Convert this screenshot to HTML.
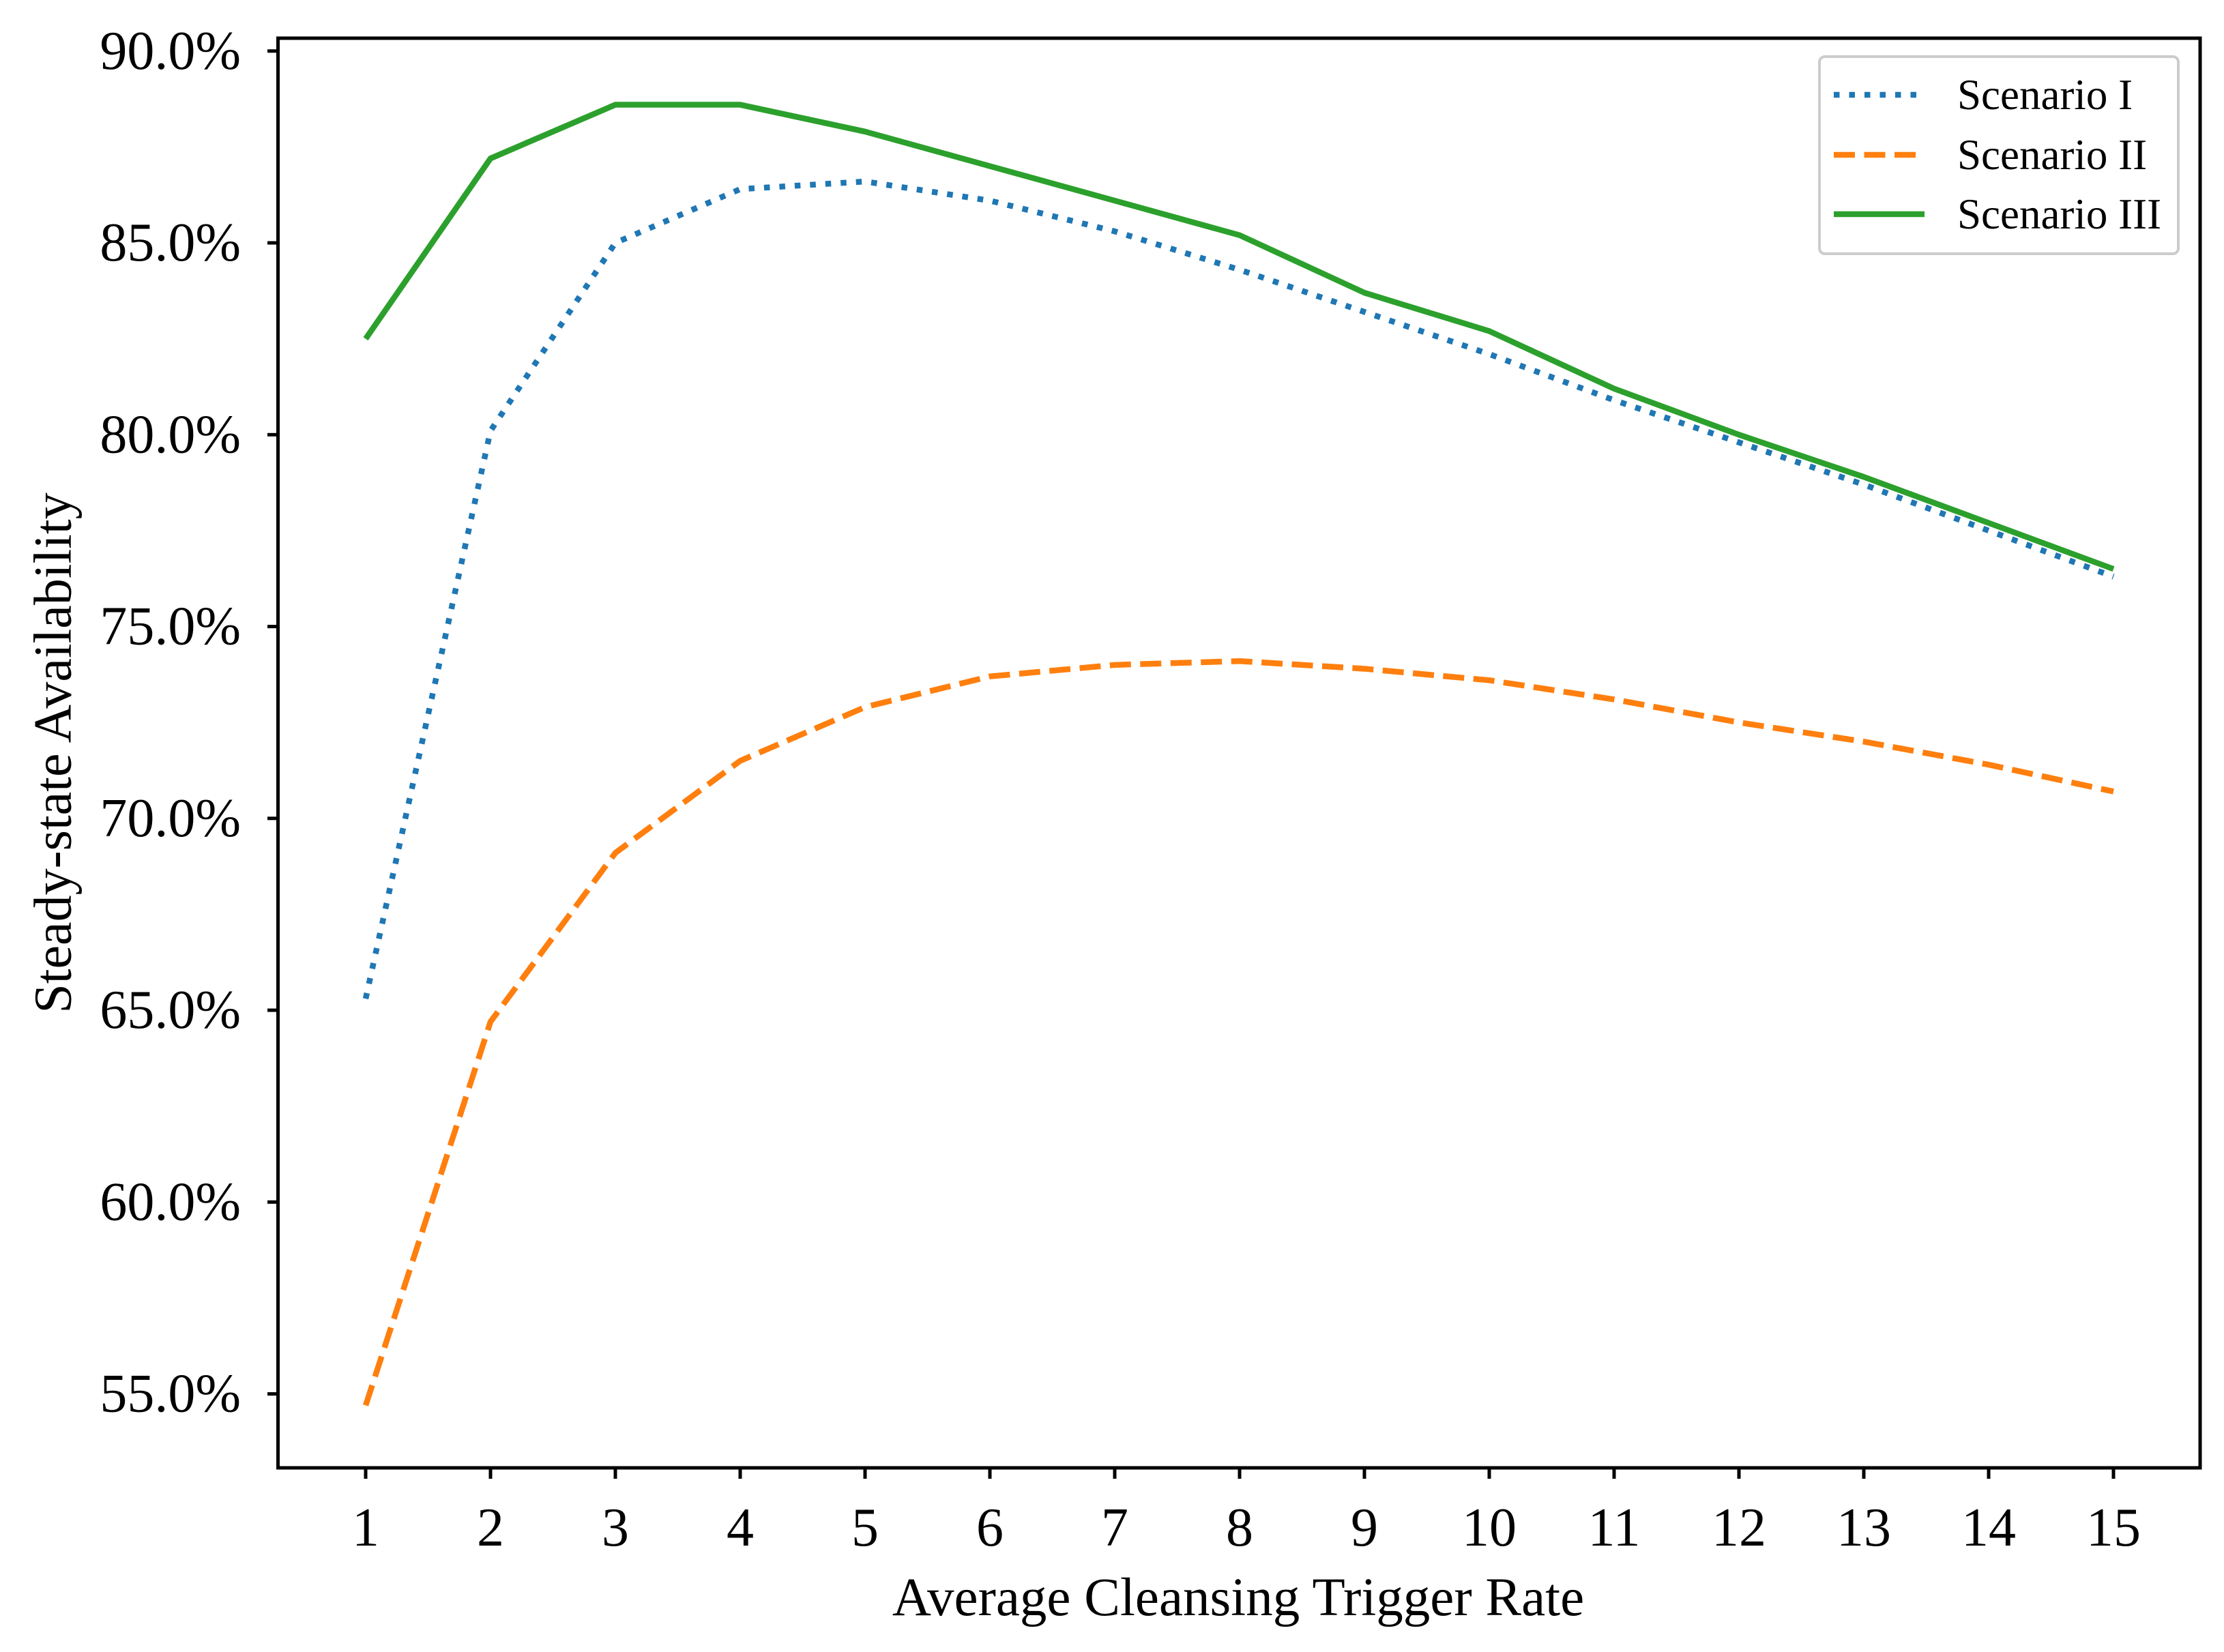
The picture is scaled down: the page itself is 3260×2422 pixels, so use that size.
<!DOCTYPE html>
<html><head><meta charset="utf-8">
<style>
html,body{margin:0;padding:0;background:#fff;}
svg{display:block;}
text{font-family:"Liberation Serif","DejaVu Serif",serif;fill:#000;}
</style></head>
<body>
<svg id="chart" width="3260" height="2422" viewBox="0 0 3260 2422" xmlns="http://www.w3.org/2000/svg">
<rect x="0" y="0" width="3260" height="2422" fill="#fff"/>
<g id="ticks"></g>
<g id="series"></g>
<rect x="407.5" y="56" width="2817.5" height="2096" fill="none" stroke="#000" stroke-width="5"/>
<text x="77" y="1104" font-size="78" text-anchor="middle" dominant-baseline="central" transform="rotate(-90 77 1104)">Steady-state Availability</text>
<text x="1815" y="2368" font-size="79" text-anchor="middle">Average Cleansing Trigger Rate</text>
<g>
<rect x="2667" y="83" width="526" height="289" rx="8" fill="#fff" stroke="#ccc" stroke-width="4"/>
<line x1="2688" y1="139" x2="2821" y2="139" stroke="#1f77b4" stroke-width="8.5" stroke-dasharray="8.5,14"/>
<text x="2869" y="139" font-size="63" dominant-baseline="central">Scenario I</text>
<line x1="2688" y1="227" x2="2821" y2="227" stroke="#ff7f0e" stroke-width="8.5" stroke-dasharray="31,13.5"/>
<text x="2869" y="227" font-size="63" dominant-baseline="central">Scenario II</text>
<line x1="2688" y1="314" x2="2821" y2="314" stroke="#2ca02c" stroke-width="8.5"/>
<text x="2869" y="314" font-size="63" dominant-baseline="central">Scenario III</text>
</g>
</svg>
<script>
const categories = [1,2,3,4,5,6,7,8,9,10,11,12,13,14,15];
const scenarioI = [65.3,80.1,85.0,86.4,86.6,86.1,85.3,84.3,83.2,82.1,80.9,79.8,78.7,77.5,76.3];
const scenarioII = [54.7,64.7,69.1,71.5,72.9,73.7,74.0,74.1,73.9,73.6,73.1,72.5,72.0,71.4,70.7];
const scenarioIII = [82.5,87.2,88.6,88.6,87.9,87.0,86.1,85.2,83.7,82.7,81.2,80.0,78.9,77.7,76.5];
const yTicks = [55,60,65,70,75,80,85,90];
const yTickLabels = ["55.0%","60.0%","65.0%","70.0%","75.0%","80.0%","85.0%","90.0%"];

const NS = "http://www.w3.org/2000/svg";
function xs(v){ return 536 + (v-1)*(3098-536)/14; }
function ys(v){ return 2043.6 - (v-55)*(2043.6-74.8)/35; }
const tg = document.getElementById('ticks');
categories.forEach(c=>{
  const l=document.createElementNS(NS,'line');
  l.setAttribute('x1',xs(c)); l.setAttribute('x2',xs(c));
  l.setAttribute('y1',2152); l.setAttribute('y2',2168);
  l.setAttribute('stroke','#000'); l.setAttribute('stroke-width','5');
  
  
  tg.appendChild(l);
  const t=document.createElementNS(NS,'text');
  t.setAttribute('x',xs(c)); t.setAttribute('y',2266);
  t.setAttribute('font-size','80'); t.setAttribute('text-anchor','middle');
  t.textContent=String(c);
  
  
  tg.appendChild(t);
});
yTicks.forEach((v,i)=>{
  const l=document.createElementNS(NS,'line');
  l.setAttribute('x1',392); l.setAttribute('x2',407.5);
  l.setAttribute('y1',ys(v)); l.setAttribute('y2',ys(v));
  l.setAttribute('stroke','#000'); l.setAttribute('stroke-width','5');
  
  
  tg.appendChild(l);
  const t=document.createElementNS(NS,'text');
  t.setAttribute('x',353); t.setAttribute('y',ys(v));
  t.setAttribute('font-size','80'); t.setAttribute('text-anchor','end');
  t.setAttribute('dominant-baseline','central');
  t.textContent=yTickLabels[i];
  
  
  tg.appendChild(t);
});
const sg=document.getElementById('series');
function draw(vals,color,dash,name){
  const p=document.createElementNS(NS,'polyline');
  p.setAttribute('points',vals.map((v,i)=>xs(categories[i])+','+ys(v)).join(' '));
  p.setAttribute('fill','none'); p.setAttribute('stroke',color);
  p.setAttribute('stroke-width','8.5');
  p.setAttribute('stroke-linejoin','round');
  if(dash) p.setAttribute('stroke-dasharray',dash);
  
  
  sg.appendChild(p);
}
draw(scenarioI,'#1f77b4','8.5,14','line-scenario-i');
draw(scenarioII,'#ff7f0e','31,13.5','line-scenario-ii');
draw(scenarioIII,'#2ca02c',null,'line-scenario-iii');
</script>
</body></html>
